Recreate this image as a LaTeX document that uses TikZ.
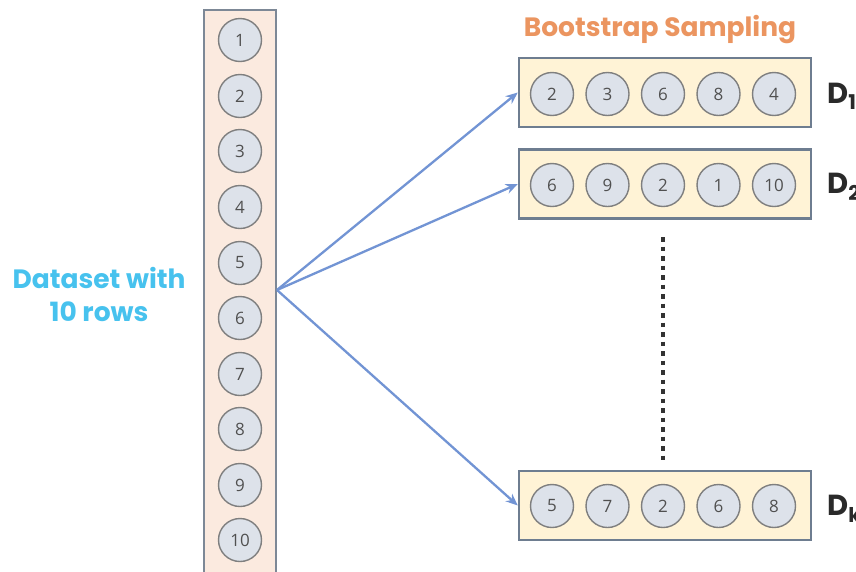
\documentclass[tikz,border=0pt]{standalone}
\usepackage{fontspec}
\setmainfont{Open Sans}
\newfontfamily\popp{Poppins}
\usetikzlibrary{arrows.meta}
\definecolor{circfill}{HTML}{DDE2EA}
\definecolor{circgray}{HTML}{7F7F7F}
\definecolor{numgray}{HTML}{505050}
\definecolor{colfill}{HTML}{FBEADF}
\definecolor{colborder}{HTML}{7D8896}
\definecolor{boxfill}{HTML}{FFF3D6}
\definecolor{boxborder}{HTML}{6E7D90}
\definecolor{arrblue}{HTML}{7294D4}
\definecolor{titleorange}{HTML}{EB9560}
\definecolor{dsblue}{HTML}{47C2EE}
\definecolor{dlabgray}{HTML}{2A2A2A}
\begin{document}
\begin{tikzpicture}[x=1pt,y=-1pt,
  rowc/.style={circle, draw=circgray, fill=circfill, line width=1.4pt, minimum size=43pt, inner sep=0pt, font=\fontsize{17}{17}\selectfont, text=numgray},
  colbox/.style={draw=colborder, fill=colfill, line width=2pt, minimum width=72pt, minimum height=620pt, inner sep=0pt},
  sample/.style={draw=boxborder, fill=boxfill, line width=2.5pt, minimum width=292pt, minimum height=69pt, inner sep=0pt},
  arr/.style={draw=arrblue, line width=2.3pt, -{Stealth[length=12pt,width=10pt]}},
  dotline/.style={draw=black!80, line width=4.5pt, dash pattern=on 4.5pt off 5pt},
  dlab/.style={anchor=west, text=dlabgray, font=\popp\bfseries\fontsize{29}{29}\selectfont, inner sep=0pt},
  dslab/.style={text=dsblue, font=\popp\bfseries\fontsize{26.5}{33}\selectfont, align=center},
  ttl/.style={text=titleorange, font=\popp\bfseries\fontsize{26.5}{26.5}\selectfont}
]
\clip (0,0) rectangle (856,571);
\fill[white] (0,0) rectangle (856,571);

% dataset column
\node[colbox] (col) at (240,320) {};
\foreach \i/\y in {1/40,2/96,3/151,4/207,5/263,6/318,7/374,8/429,9/485,10/540}
  \node[rowc] (c\i) at (240,\y) {\i};

\node[dslab] (ds) at (99,294) {Dataset with\\10 rows};

% title
\node[ttl] (title) at (660,30) {Bootstrap Sampling};

% sample boxes
\node[sample] (b1) at (665,92.5) {};
\node[sample] (b2) at (665,184) {};
\node[sample] (bk) at (665,505.5) {};

\foreach \n/\v [count=\j] in {a/2,b/3,c/6,d/8,e/4}
  \node[rowc] (s1\n) at ({552+55.5*(\j-1)},94) {\v};
\foreach \n/\v [count=\j] in {a/6,b/9,c/2,d/1,e/10}
  \node[rowc] (s2\n) at ({552+55.5*(\j-1)},185) {\v};
\foreach \n/\v [count=\j] in {a/5,b/7,c/2,d/6,e/8}
  \node[rowc] (sk\n) at ({552+55.5*(\j-1)},506) {\v};

\node[dlab] (d1) at (827,96) {D\textsubscript{1}};
\node[dlab] (d2) at (827,187) {D\textsubscript{2}};
\node[dlab] (dk) at (827,509) {D\textsubscript{k}};

% arrows
\coordinate (src) at (277,290);
\draw[arr] (src) -- (b1.west);
\draw[arr] (src) -- (b2.west);
\draw[arr] (src) -- (bk.west);

% dotted line
\coordinate (dtop) at (663,237);
\coordinate (dbot) at (663,462);
\draw[dotline] (dtop) -- (dbot);
\end{tikzpicture}
\end{document}
